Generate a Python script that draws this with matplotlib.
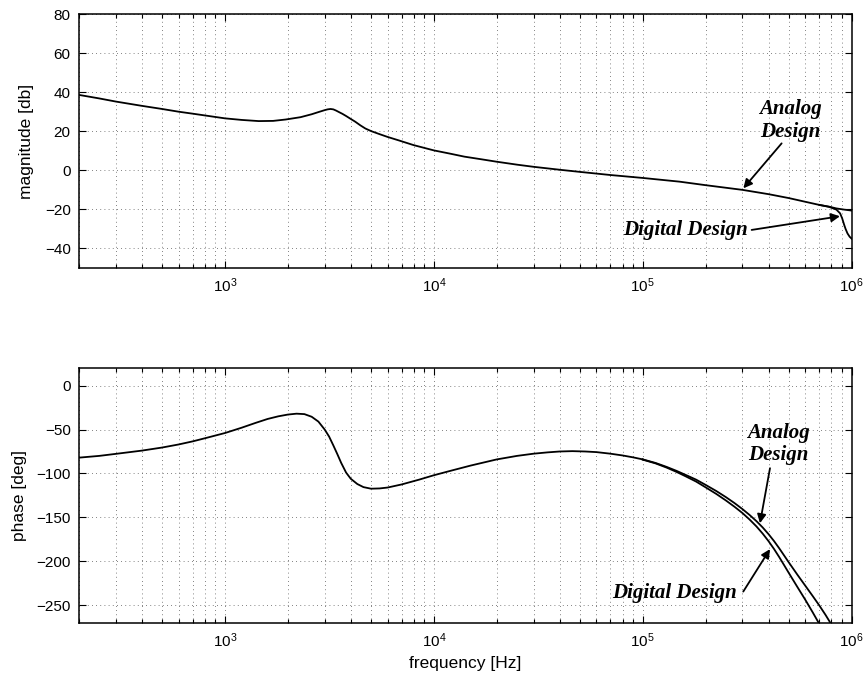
import matplotlib
matplotlib.use('Agg')
import matplotlib.pyplot as plt
from matplotlib.ticker import LogLocator, NullFormatter

plt.rcParams['font.family'] = ['Liberation Sans', 'DejaVu Sans']

# magnitude, analog design
freq_mag_analog = [200, 250, 300, 400, 500, 600, 700, 800, 900, 1000, 1200, 1450, 1700,
                   1950, 2300, 2600, 2800, 3000, 3100, 3200, 3300, 3400, 3500, 3650,
                   3800, 4000, 4200, 4450, 4700, 5000, 5500, 6000, 6800, 8000, 1e4,
                   1.2e4, 1.4e4, 1.7e4, 2e4, 2.5e4, 3e4, 4e4, 5e4, 7e4, 1e5, 1.5e5,
                   2e5, 3e5, 4e5, 5e5, 6e5, 7e5, 7.8e5, 8.45e5, 9.2e5, 1e6]
mag_analog = [38.6, 36.8, 35.2, 33.0, 31.4, 30.0, 29.0, 28.1, 27.3, 26.6, 25.8, 25.2, 25.3,
              26.0, 27.2, 28.7, 29.8, 30.8, 31.2, 31.4, 31.2, 30.6, 29.9, 28.9,
              27.8, 26.3, 24.9, 23.0, 21.4, 20.1, 18.5, 17.1, 15.3, 12.9, 10.2,
              8.5, 7.0, 5.6, 4.4, 2.9, 1.8, 0.3, -0.8, -2.4, -3.9, -5.8,
              -7.6, -10.0, -12.2, -14.2, -16.1, -17.7, -18.6, -19.5, -20.1, -20.6]

# magnitude, digital design: bends away from the analog curve near 1 MHz
freq_mag_digital = [7e5, 7.8e5, 8.45e5, 8.8e5, 9.0e5, 9.2e5, 9.35e5, 9.55e5, 9.78e5, 1e6]
mag_digital = [-17.7, -18.7, -20.1, -22.0, -24.5, -27.8, -30.0, -32.3, -34.0, -35.0]

# phase, shared low-frequency part
freq_phase_low = [200, 250, 300, 400, 500, 600, 700, 800, 1000, 1200, 1400, 1600, 1800,
                  2000, 2200, 2400, 2600, 2800, 3000, 3150, 3300, 3450, 3600, 3800,
                  4000, 4300, 4600, 5000, 5500, 6000, 7000, 8500, 1e4, 1.2e4, 1.5e4,
                  2e4, 2.5e4, 3e4, 3.5e4, 4e4, 4.6e4, 5.3e4, 6e4, 7e4, 8e4, 9e4, 1e5]
phase_low = [-82, -80, -77.7, -74, -70.5, -67, -63.5, -60, -54, -48, -42.5, -38, -35,
             -33, -32, -32.5, -35.5, -41, -50, -58, -68, -78, -88, -99,
             -106, -112, -115.5, -117.3, -117, -116, -112.5, -107, -102, -97, -91,
             -84, -80, -77.5, -76, -75, -74.6, -75, -75.7, -77.5, -79.5, -81.7, -84]

# phase, high-frequency tails of the two designs
freq_phase_high = [1e5, 1.15e5, 1.3e5, 1.45e5, 1.6e5, 1.8e5, 2e5, 2.25e5, 2.5e5, 2.75e5,
                   3e5, 3.25e5, 3.5e5, 3.75e5, 4e5, 4.25e5, 4.5e5, 4.75e5, 5e5, 5.5e5,
                   6e5, 6.5e5, 7e5, 7.5e5, 8e5, 8.2e5]
phase_analog_high = [-84, -88, -92.5, -97, -101.5, -107, -113, -120, -126.9, -133.7,
                     -140.5, -147.3, -154.2, -161.4, -169, -176.9, -185.1, -193.3, -201.1, -215.2,
                     -227.7, -239.2, -250.1, -260.9, -271.8, -276.1]
phase_digital_high = [-84.3, -88.5, -93.3, -98.2, -103.1, -109.2, -115.8, -123.3, -130.7, -137.9,
                      -145.0, -152.5, -160.2, -168.4, -177.0, -185.9, -195.1, -204.3, -213.1, -229.2,
                      -243.7, -257.7, -271.1, -285.0, -296.0, -301.0]

mag_ticks = [-40, -20, 0, 20, 40, 60, 80]
phase_ticks = [-250, -200, -150, -100, -50, 0]

fig = plt.figure(figsize=(8.65, 6.77), dpi=100)
ax1 = fig.add_axes([0.0913, 0.6041, 0.8933, 0.3752])
ax2 = fig.add_axes([0.0913, 0.0798, 0.8933, 0.3767])

lw = 1.3
ax1.semilogx(freq_mag_analog, mag_analog, color='k', lw=lw)
ax1.semilogx(freq_mag_digital, mag_digital, color='k', lw=lw)
ax2.semilogx(freq_phase_low, phase_low, color='k', lw=lw)
ax2.semilogx(freq_phase_high, phase_analog_high, color='k', lw=lw)
ax2.semilogx(freq_phase_high, phase_digital_high, color='k', lw=lw)

ax1.set_ylim(-50, 80)
ax1.set_yticks(mag_ticks)
ax2.set_ylim(-270, 20)
ax2.set_yticks(phase_ticks)

grid_kw = dict(color='0.35', lw=0.6, linestyle=(0, (1, 4)))
for ax in (ax1, ax2):
    ax.set_xlim(200, 1e6)
    ax.xaxis.set_major_locator(LogLocator(base=10))
    ax.xaxis.set_minor_locator(LogLocator(base=10, subs=range(2, 10), numticks=20))
    ax.xaxis.set_minor_formatter(NullFormatter())
    ax.grid(True, which='major', **grid_kw)
    ax.grid(True, which='minor', axis='x', **grid_kw)
    ax.tick_params(which='both', direction='in', top=True, right=True,
                   labelsize=11, width=0.8)
    ax.tick_params(which='major', length=5, pad=6)
    ax.tick_params(which='minor', length=3)
    for s in ax.spines.values():
        s.set_linewidth(1.1)

ax1.set_ylabel('magnitude [db]', fontsize=12.5)
ax1.yaxis.set_label_coords(-0.058, 0.5)
ax2.set_ylabel('phase [deg]', fontsize=12.5)
ax2.yaxis.set_label_coords(-0.067, 0.5)
ax2.set_xlabel('frequency [Hz]', fontsize=12.5)
ax2.xaxis.set_label_coords(0.5, -0.131)

note_font = dict(family='Liberation Serif', weight='bold', style='italic', size=15)
arrow_kw = dict(arrowstyle='-|>', color='k', lw=1.3, mutation_scale=13,
                shrinkA=0, shrinkB=0)

# top panel notes
ax1.text(5.07e5, 25.5, 'Analog\nDesign', ha='center', va='center',
         linespacing=1.15, **note_font)
ax1.annotate('', xy=(3.03e5, -9.2), xytext=(4.62e5, 13.8), arrowprops=arrow_kw)
ax1.text(3.18e5, -30.5, 'Digital Design', ha='right', va='center', **note_font)
ax1.annotate('', xy=(8.79e5, -23.5), xytext=(3.32e5, -30.5), arrowprops=arrow_kw)

# bottom panel notes
ax2.text(4.44e5, -66.4, 'Analog\nDesign', ha='center', va='center',
         linespacing=1.15, **note_font)
ax2.annotate('', xy=(10**5.561, -156.6), xytext=(10**5.609, -94), arrowprops=arrow_kw)
ax2.text(10**5.451, -236.2, 'Digital Design', ha='right', va='center', **note_font)
ax2.annotate('', xy=(10**5.609, -186), xytext=(10**5.481, -234.3), arrowprops=arrow_kw)

fig.savefig('out.png', dpi=100)
